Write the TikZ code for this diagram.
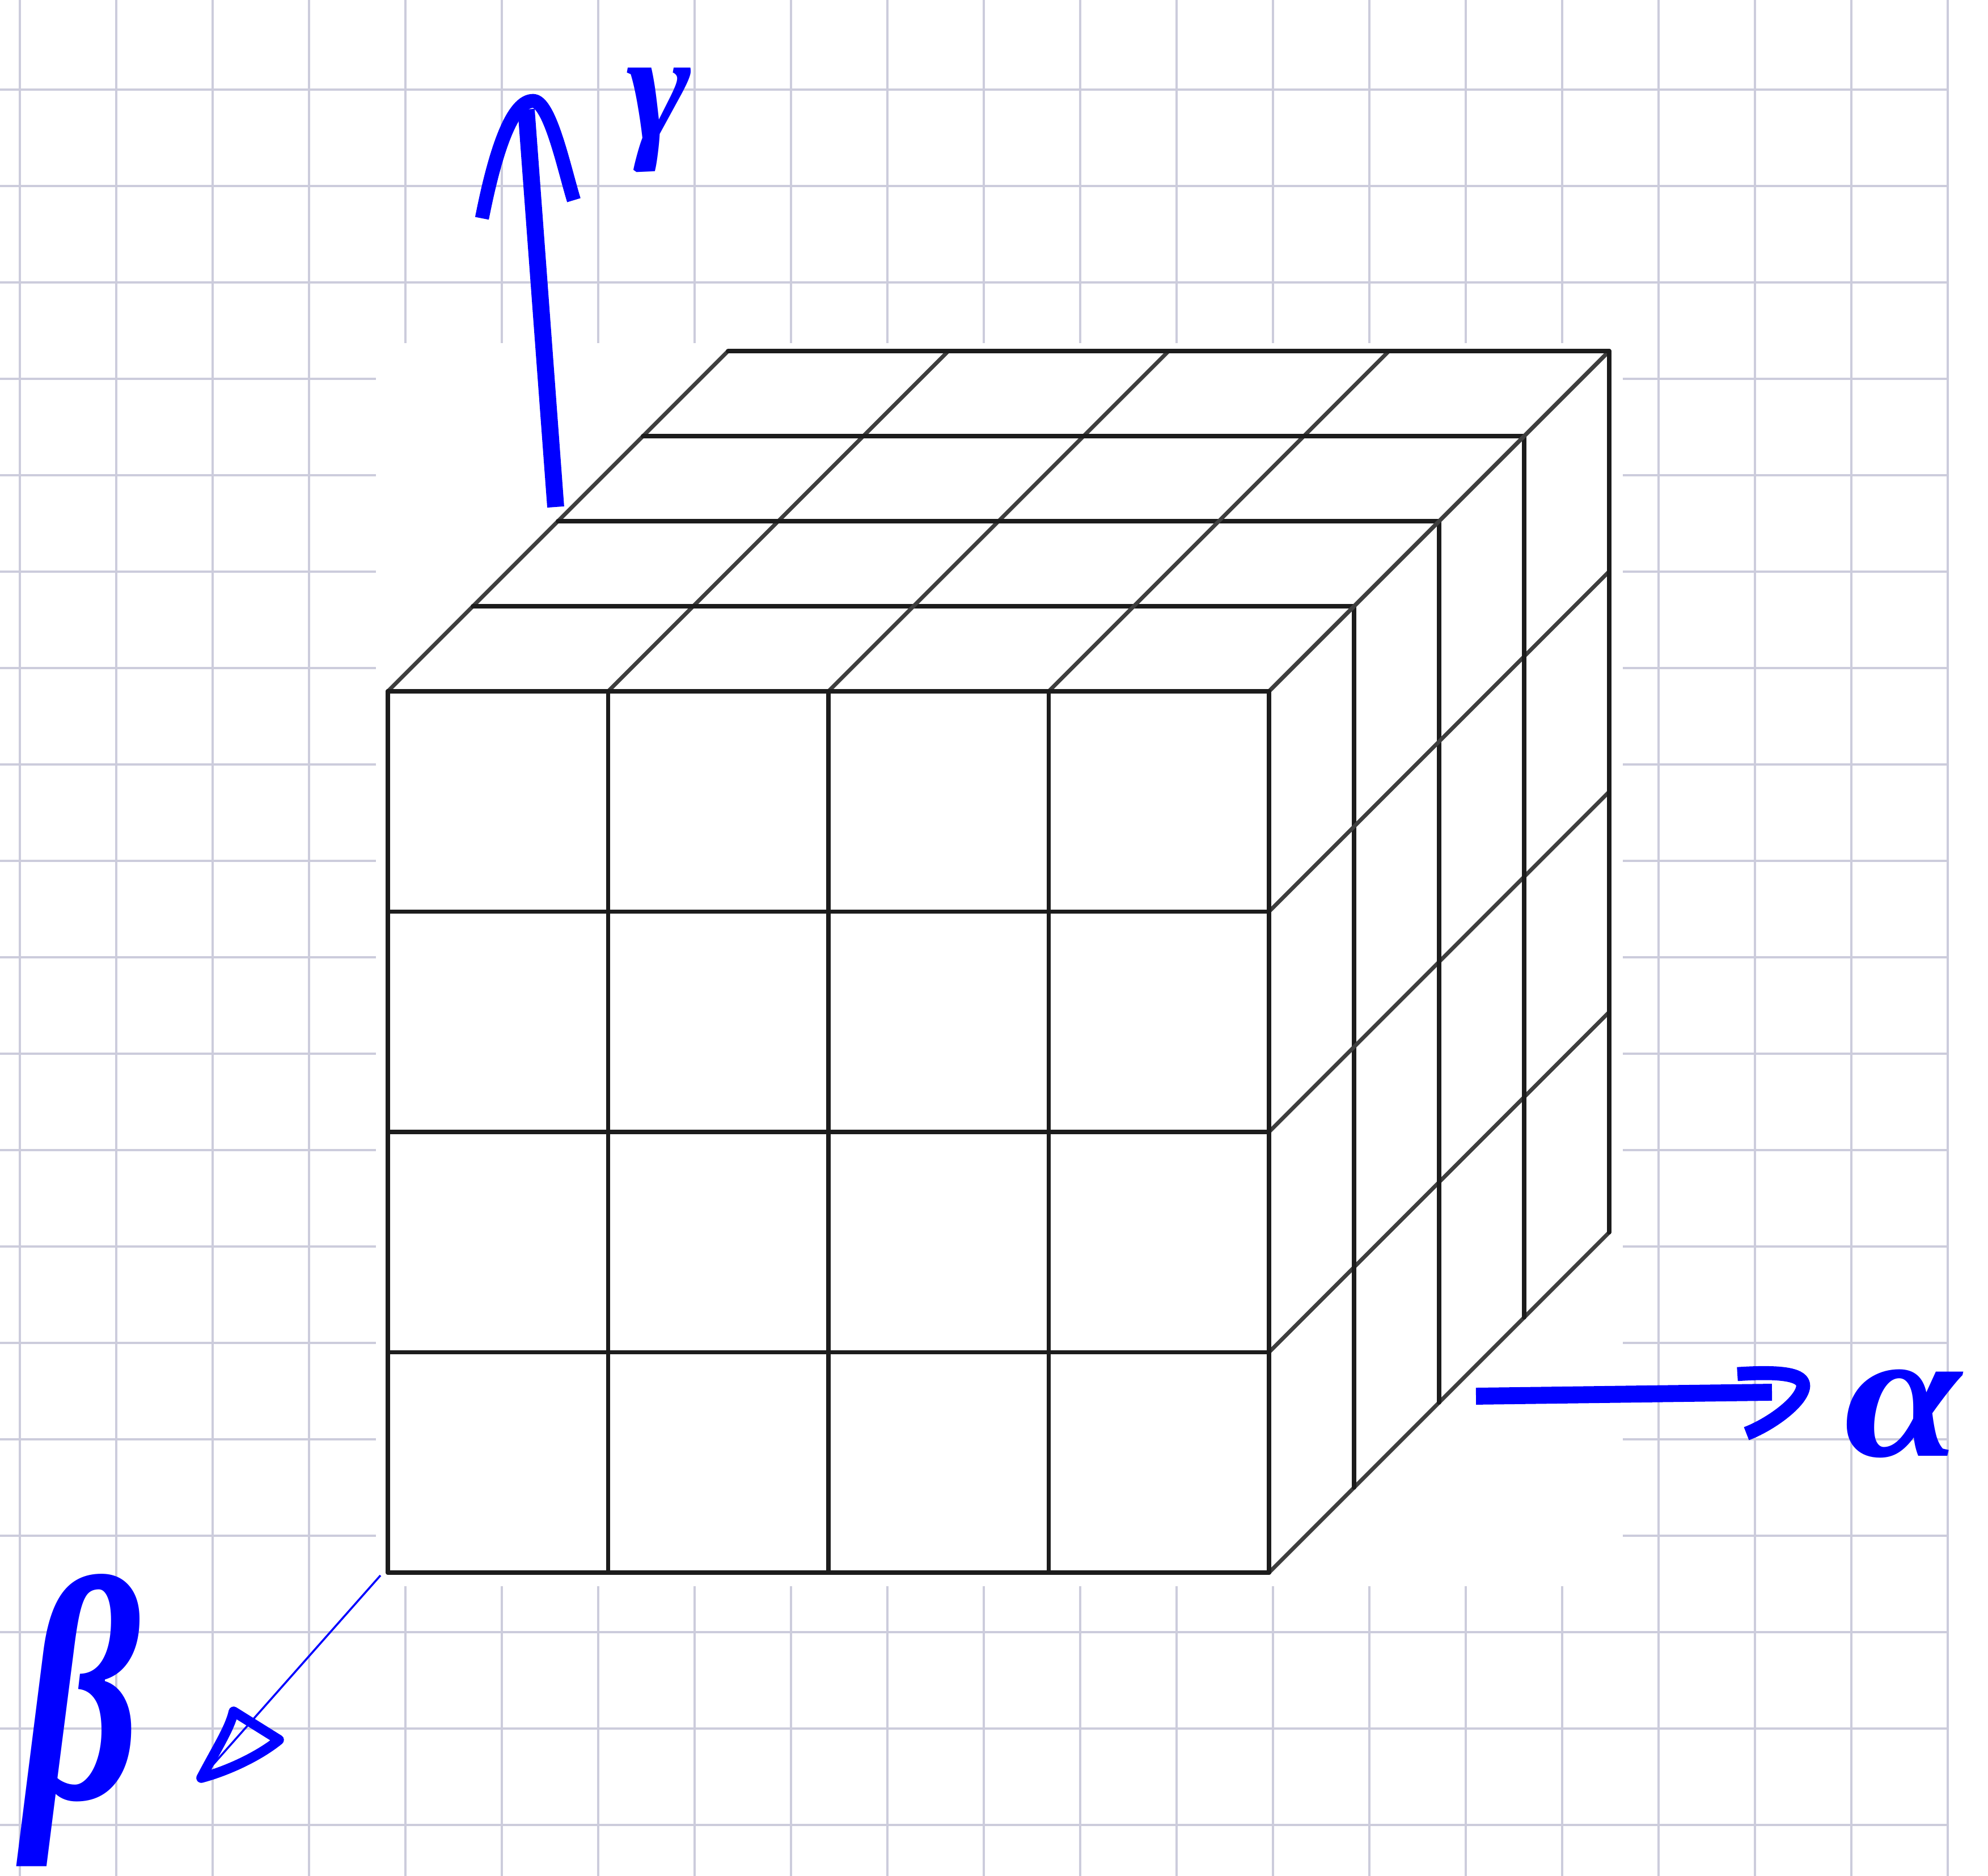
\documentclass[tikz,border=0pt]{standalone}
\usepackage{fontspec}
\newfontfamily\penfont{Liberation Serif}
\usetikzlibrary{positioning}
\definecolor{gridline}{RGB}{204,204,220}
\definecolor{pen}{RGB}{0,0,255}
\definecolor{edge}{RGB}{28,28,28}

\begin{document}
\begin{tikzpicture}
\tikzstyle{every node}=[inner sep=0pt, outer sep=0pt]
\tikzstyle{paper}=[draw=gridline, line width=1pt]
\tikzstyle{cube}=[draw=edge, line width=2.2pt, line cap=round]
\tikzstyle{slant}=[draw=edge!85, line width=2pt, line cap=round]
\tikzstyle{ink}=[draw=pen, line join=round]
\tikzstyle{letter}=[text=pen, anchor=center, font=\penfont\bfseries\itshape]

\useasboundingbox (0,0) rectangle (35.06,33.08);
\fill[white] (0,0) rectangle (35.06,33.08);
\foreach \i in {0,...,20} \draw[paper] (0.35+1.7*\i,0) -- (0.35+1.7*\i,33.08);
\foreach \j in {0,...,18} \draw[paper] (0,31.5-1.7*\j) -- (34.37,31.5-1.7*\j);
\fill[white] (6.63,5.11) rectangle (28.62,27.03);

\foreach \i in {0,...,4} {
  \draw[slant] (6.84+3.885*\i,20.89) -- ++(6,6);
  \draw[slant] (22.38,5.35+3.885*\i) -- ++(6,6);
  \draw[cube] (6.84+3.885*\i,5.35) -- (6.84+3.885*\i,20.89);
  \draw[cube] (6.84,5.35+3.885*\i) -- (22.38,5.35+3.885*\i);
  \draw[cube] (6.84+1.5*\i,20.89+1.5*\i) -- (22.38+1.5*\i,20.89+1.5*\i);
  \draw[cube] (22.38+1.5*\i,5.35+1.5*\i) -- (22.38+1.5*\i,20.89+1.5*\i);
}

\coordinate (gfoot) at (9.80,24.14);
\coordinate (gtip) at (9.28,31.15);
\coordinate (gleft) at (8.50,29.23);
\coordinate (gtop) at (9.40,31.30);
\coordinate (gright) at (10.12,29.55);
\draw[ink, line width=8.5pt] (gfoot) -- (gtip);
\draw[ink, line width=7pt] (gleft) .. controls (8.75,30.5) and (9.05,31.3) .. (gtop) .. controls (9.7,31.3) and (9.95,30.1) .. (gright);
\node[letter, anchor=base] (gamma) at (11.62,30.62) {\fontsize{78}{78}\selectfont γ};

\coordinate (afoot) at (26.03,8.46);
\coordinate (atip) at (31.25,8.53);
\coordinate (aup) at (30.64,8.85);
\coordinate (anose) at (31.80,8.63);
\coordinate (alow) at (30.80,7.80);
\draw[ink, line width=8.5pt] (afoot) -- (atip);
\draw[ink, line width=7pt] (aup) .. controls (31.4,8.9) and (31.82,8.85) .. (anose) .. controls (31.77,8.35) and (31.2,7.95) .. (alow);
\node[letter] (alpha) at (33.55,8.15) {\scalebox{1.15}[1]{\fontsize{92}{92}\selectfont α}};

\coordinate (bfoot) at (6.71,5.30);
\coordinate (btip) at (3.55,1.73);
\coordinate (bleft) at (4.12,2.90);
\coordinate (bright) at (4.92,2.40);
\draw[ink, line width=1pt] (bfoot) -- (btip);
\draw[ink, line width=5pt] (btip) .. controls (3.85,2.3) and (4.05,2.6) .. (bleft) -- (bright) .. controls (4.55,2.1) and (4.0,1.85) .. cycle;
\node[letter] (beta) at (1.45,2.75) {\scalebox{0.72}[1]{\fontsize{160}{160}\selectfont β}};
\end{tikzpicture}
\end{document}
